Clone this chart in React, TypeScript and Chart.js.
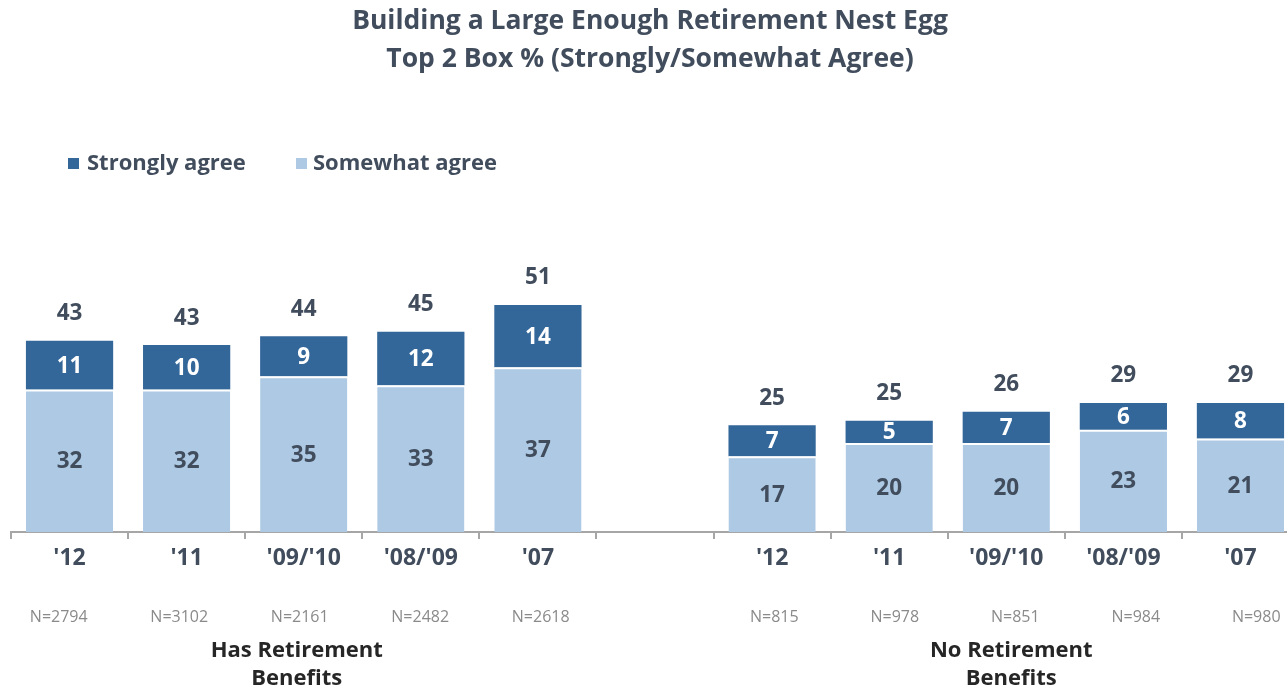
import React, { useEffect, useRef } from "react";
import { Chart, registerables } from "chart.js";

Chart.register(...registerables);

const categories = ["'12", "'11", "'09/'10", "'08/'09", "'07", "", "'12", "'11", "'09/'10", "'08/'09", "'07"];
const sampleSizes = ["N=2794", "N=3102", "N=2161", "N=2482", "N=2618", "", "N=815", "N=978", "N=851", "N=984", "N=980"];
const somewhatAgree = [32, 32, 35, 33, 37, null, 17, 20, 20, 23, 21];
const stronglyAgree = [11, 10, 9, 12, 14, null, 7, 5, 7, 6, 8];
const totals = [43, 43, 44, 45, 51, null, 25, 25, 26, 29, 29];
const groupLabels = [["Has Retirement", "Benefits"], ["No Retirement", "Benefits"]];
const titleLines = ["Building a Large Enough Retirement Nest Egg", "Top 2 Box % (Strongly/Somewhat Agree)"];

const DARK = "#336699";
const LIGHT = "#adc9e4";
const TEXT = "#414d5d";
const GRAY_TEXT = "#8a8a8a";
const AXIS = "#a6a6a6";
const FONT = "'Open Sans'";

const labelPlugin = {
  id: "customLabels",
  afterDatasetsDraw(chart: any) {
    const ctx = chart.ctx;
    const light = chart.getDatasetMeta(0).data;
    const dark = chart.getDatasetMeta(1).data;
    ctx.save();
    ctx.textAlign = "center";
    ctx.textBaseline = "middle";
    ctx.font = `bold 22.5px ${FONT}`;
    for (let i = 0; i < categories.length; i++) {
      if (somewhatAgree[i] == null) continue;
      const l = light[i];
      const d = dark[i];
      ctx.fillStyle = TEXT;
      ctx.fillText(String(somewhatAgree[i]), l.x, (l.y + l.base) / 2 + 1);
      ctx.fillStyle = "#ffffff";
      ctx.fillText(String(stronglyAgree[i]), d.x, (d.y + d.base) / 2 + 1);
      ctx.fillStyle = TEXT;
      ctx.fillText(String(totals[i]), d.x, d.y - 27);
    }
    ctx.restore();
  },
  afterDraw(chart: any) {
    const ctx = chart.ctx;
    ctx.save();
    ctx.textAlign = "center";
    ctx.textBaseline = "middle";
    ctx.fillStyle = TEXT;
    ctx.font = `bold 26.5px ${FONT}`;
    ctx.fillText(titleLines[0], 650, 21);
    ctx.fillText(titleLines[1], 650, 59);

    // legend
    ctx.textAlign = "left";
    ctx.font = `bold 22px ${FONT}`;
    ctx.fillStyle = DARK;
    ctx.fillRect(68, 158, 11, 11);
    ctx.fillStyle = TEXT;
    ctx.fillText("Strongly agree", 87, 164);
    ctx.fillStyle = LIGHT;
    ctx.fillRect(296, 158, 11, 11);
    ctx.fillStyle = TEXT;
    ctx.fillText("Somewhat agree", 313, 164);

    const x = chart.scales.x;
    const w = x.getPixelForValue(1) - x.getPixelForValue(0);

    // sample sizes row (slightly wider spacing than the bars, centred per group)
    ctx.textAlign = "center";
    ctx.fillStyle = GRAY_TEXT;
    ctx.font = `16px ${FONT}`;
    const groups = [
      { mid: 2, shift: -4, from: 0, to: 4 },
      { mid: 8, shift: 9, from: 6, to: 10 },
    ];
    groups.forEach((g) => {
      for (let i = g.from; i <= g.to; i++) {
        const px = x.getPixelForValue(g.mid) + g.shift + (i - g.mid) * w * 1.029;
        ctx.fillText(sampleSizes[i], px, 617);
      }
    });

    // group labels
    ctx.fillStyle = "#262626";
    ctx.font = `bold 22px ${FONT}`;
    const g1 = x.getPixelForValue(2) - 7;
    const g2 = x.getPixelForValue(8) + 5;
    ctx.fillText(groupLabels[0][0], g1, 651);
    ctx.fillText(groupLabels[0][1], g1, 679);
    ctx.fillText(groupLabels[1][0], g2, 651);
    ctx.fillText(groupLabels[1][1], g2, 679);
    ctx.restore();
  },
};

export default function App() {
  const ref = useRef<HTMLCanvasElement | null>(null);
  useEffect(() => {
    if (!ref.current) return;
    const chart = new Chart(ref.current, {
      type: "bar",
      data: {
        labels: categories,
        datasets: [
          {
            label: "Somewhat agree",
            data: somewhatAgree,
            backgroundColor: LIGHT,
            borderColor: "#ffffff",
            borderWidth: { top: 2, left: 0, right: 0, bottom: 0 },
            borderSkipped: false,
            barPercentage: 0.745,
            categoryPercentage: 1,
          },
          {
            label: "Strongly agree",
            data: stronglyAgree,
            backgroundColor: DARK,
            borderWidth: 0,
            barPercentage: 0.745,
            categoryPercentage: 1,
          },
        ],
      },
      options: {
        responsive: false,
        animation: false,
        layout: { padding: { left: 11, right: 1, top: 265, bottom: 97 } },
        plugins: { legend: { display: false }, title: { display: false }, tooltip: { enabled: false } },
        scales: {
          x: {
            stacked: true,
            offset: true,
            position: "bottom",
            grid: { offset: true, drawOnChartArea: false, color: AXIS, lineWidth: 2, tickLength: 7 },
            border: { color: AXIS, width: 2 },
            ticks: {
              autoSkip: false,
              maxRotation: 0,
              padding: 6,
              color: TEXT,
              font: { family: FONT, size: 23, weight: "bold" },
            },
            afterFit: (s: any) => {
              s.height = 60;
            },
          },
          y: { stacked: true, display: false, min: 0, max: 60 },
        },
      },
      plugins: [labelPlugin],
    } as any);
    return () => chart.destroy();
  }, []);
  return (
    <div style={{ position: "fixed", left: 0, top: 0, width: 1287, height: 689, overflow: "hidden", background: "#ffffff" }}>
      <canvas ref={ref} width={1300} height={689} style={{ display: "block" }} />
    </div>
  );
}
